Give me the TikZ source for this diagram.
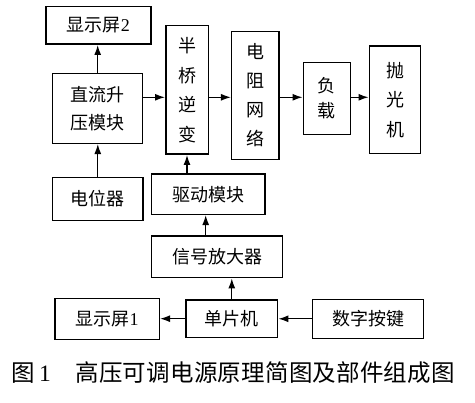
\documentclass[tikz,border=0pt]{standalone}
\usepackage{fontspec}
\setmainfont{Liberation Serif}
\newfontfamily\cjk{Noto Sans CJK SC}
\newfontfamily\capcjk[LetterSpace=1]{Noto Sans CJK SC}
\usepackage{tikz}
\usetikzlibrary{arrows.meta,positioning}

\begin{document}
\begin{tikzpicture}[x=1pt,y=1pt,yscale=-1,xscale=1,
  blk/.style={draw,line width=1.5pt,inner sep=0pt,align=center,
    font=\cjk\fontsize{18}{28}\selectfont},
  conn/.style={line width=1.3pt,-{Latex[length=10pt,width=7pt]}}]
%set diagram left start at 0, and has height of 403
\path[use as bounding box] (0,0) rectangle (475,403);

% Text Node
\node[blk,minimum width=105pt,minimum height=37.5pt] (disp2) at (98.3,25.5) {显示屏\textrm{2}};
% Text Node
\node[blk,minimum width=90pt,minimum height=70pt] (dcboost) at (97.7,108.3) {直流升\\压模块};
% Text Node
\node[blk,minimum width=42.5pt,minimum height=128.5pt,font=\cjk\fontsize{18}{29.5}\selectfont] (halfbr) at (187,90) {半\\桥\\逆\\变};
% Text Node
\node[blk,minimum width=47.3pt,minimum height=127.6pt,font=\cjk\fontsize{18}{29}\selectfont] (resnet) at (255.3,95.5) {电\\阻\\网\\络};
% Text Node
\node[blk,minimum width=47pt,minimum height=72pt,font=\cjk\fontsize{18}{25}\selectfont] (load) at (326.8,98.3) {负\\载};
% Text Node
\node[blk,minimum width=51.4pt,minimum height=107.7pt,font=\cjk\fontsize{18}{29.5}\selectfont] (polish) at (395,99.8) {抛\\光\\机};
% Text Node
\node[blk,minimum width=90.3pt,minimum height=43.4pt] (pot) at (97.8,199) {电位器};
% Text Node
\node[blk,minimum width=113.3pt,minimum height=40.3pt] (drive) at (208.3,194.2) {驱动模块};
% Text Node
\node[blk,minimum width=131pt,minimum height=41.7pt] (amp) at (217.2,256.8) {信号放大器};
% Text Node
\node[blk,minimum width=104.3pt,minimum height=41pt] (disp1) at (107.2,318.8) {显示屏\textrm{1}};
% Text Node
\node[blk,minimum width=91.7pt,minimum height=37.3pt] (mcu) at (231.8,318.7) {单片机};
% Text Node
\node[blk,minimum width=110.6pt,minimum height=39pt] (keys) at (368,318.8) {数字按键};
% Text Node
\node[anchor=west,inner sep=0pt,font=\fontsize{23.5}{26}\selectfont] (caption) at (11,372.5)
  {{\cjk 图}\hspace{4.5pt}1\hspace{24.5pt}{\capcjk 高压可调电源原理简图及部件组成图}};

\coordinate (row) at (0,97.3);
% Connection
\draw[conn] (dcboost.east |- row) -- (halfbr.west |- row);
% Connection
\draw[conn] (halfbr.east |- row) -- (resnet.west |- row);
% Connection
\draw[conn] (resnet.east |- row) -- (load.west |- row);
% Connection
\draw[conn] (load.east |- row) -- (polish.west |- row);
% Connection
\draw[conn] (dcboost.north) -- (dcboost.north |- disp2.south);
% Connection
\draw[conn] (pot.north) -- (pot.north |- dcboost.south);
% Connection
\draw[conn] (halfbr.south |- drive.north) -- (halfbr.south);
% Connection
\draw[conn] ([xshift=-2.6pt]drive.south |- amp.north) -- ([xshift=-2.6pt]drive.south);
% Connection
\draw[conn] (mcu.north) -- (mcu.north |- amp.south);
% Connection
\draw[conn] (mcu.west) -- (mcu.west -| disp1.east);
% Connection
\draw[conn] (keys.west) -- (keys.west -| mcu.east);

\end{tikzpicture}
\end{document}
